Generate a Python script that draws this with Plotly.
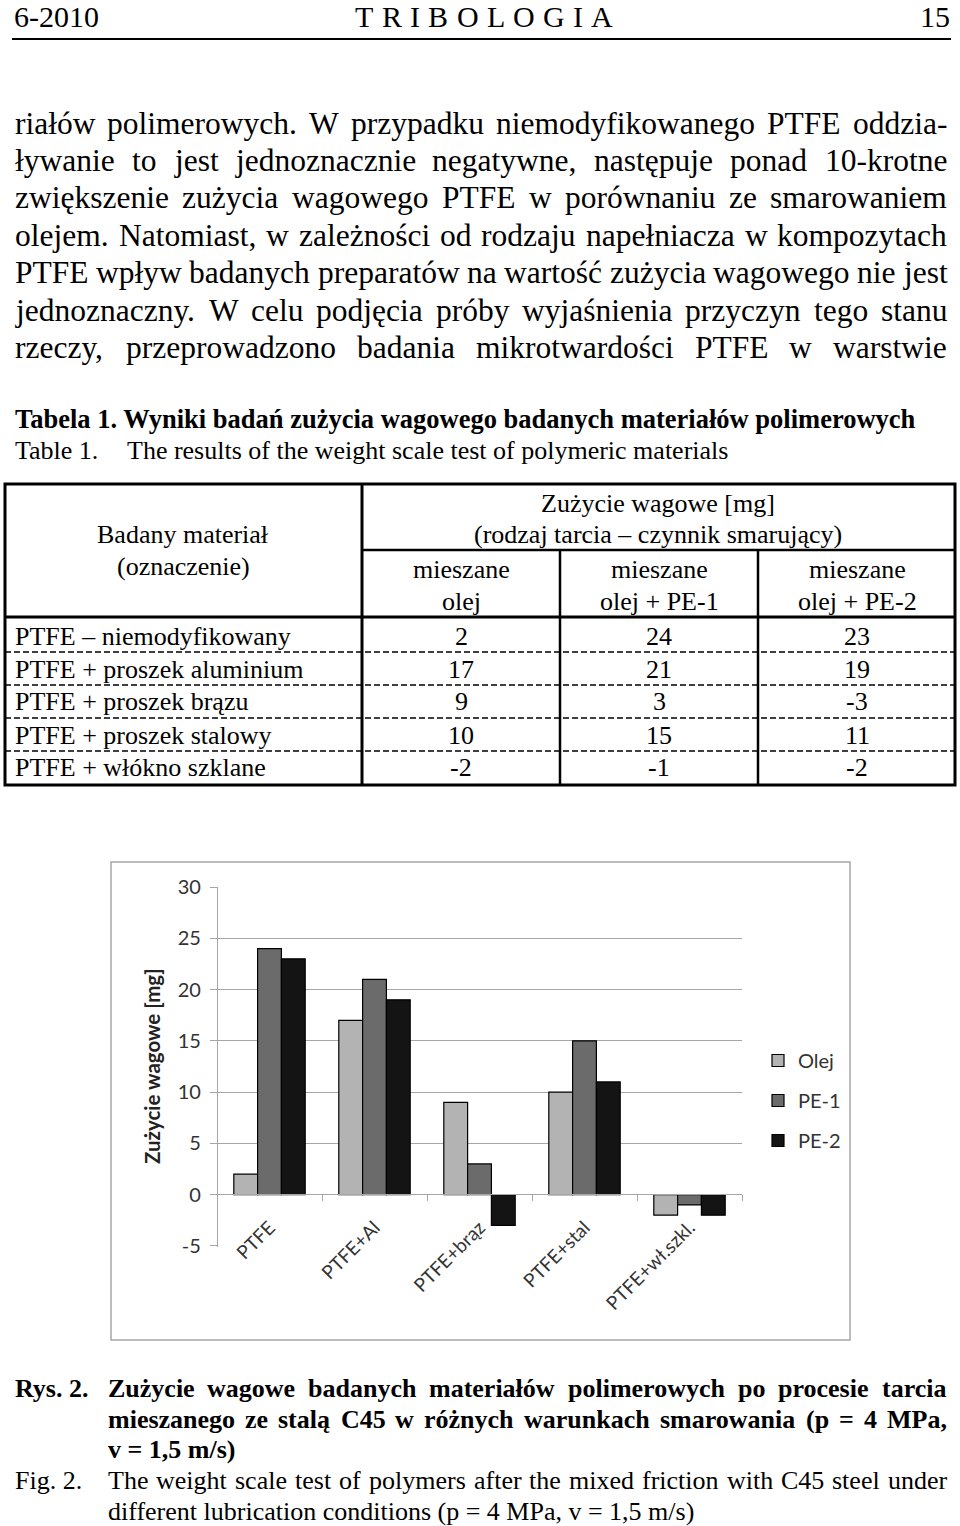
import plotly.graph_objects as go

# ---------------- data ----------------
categories = ["PTFE", "PTFE+Al", "PTFE+brąz", "PTFE+stal", "PTFE+wł.szkl."]
series_names = ["Olej", "PE-1", "PE-2"]
olej = [2, 17, 9, 10, -2]
pe1 = [24, 21, 3, 15, -1]
pe2 = [23, 19, -3, 11, -2]
ytick_vals = [-5, 0, 5, 10, 15, 20, 25, 30]
ytick_labels = ["-5", "0", "5", "10", "15", "20", "25", "30"]

table_rows = ["PTFE – niemodyfikowany", "PTFE + proszek aluminium", "PTFE + proszek brązu",
              "PTFE + proszek stalowy", "PTFE + włókno szklane"]
table_col_top = ["mieszane", "mieszane", "mieszane"]
table_col_bottom = ["olej", "olej + PE-1", "olej + PE-2"]

body_lines = [
    "riałów polimerowych. W przypadku niemodyfikowanego PTFE oddzia-",
    "ływanie to jest jednoznacznie negatywne, następuje ponad 10-krotne",
    "zwiększenie zużycia wagowego PTFE w porównaniu ze smarowaniem",
    "olejem. Natomiast, w zależności od rodzaju napełniacza w kompozytach",
    "PTFE wpływ badanych preparatów na wartość zużycia wagowego nie jest",
    "jednoznaczny. W celu podjęcia próby wyjaśnienia przyczyn tego stanu",
    "rzeczy, przeprowadzono badania mikrotwardości PTFE w warstwie",
]
caption_pl = [
    "Zużycie wagowe badanych materiałów polimerowych po procesie tarcia",
    "mieszanego ze stalą C45 w różnych warunkach smarowania (p = 4 MPa,",
    "v = 1,5 m/s)",
]
caption_en = [
    "The weight scale test of polymers after the mixed friction with C45 steel under",
    "different lubrication conditions (p = 4 MPa, v = 1,5 m/s)",
]

# ---------------- page helpers ----------------
FW, FH = 960, 1526
SERIF = "Liberation Serif"
SANS = "Lato"


def px(x):
    return x / FW


def py(y):
    return 1 - y / FH


REG = dict(zip("abcdefghijklmnopqrstuvwxyz",
               [444, 500, 444, 500, 444, 333, 500, 500, 278, 278, 500, 278, 778, 500, 500, 500, 500, 333, 389, 278, 500, 500, 722, 500, 500, 444]))
REG.update(zip("ABCDEFGHIJKLMNOPQRSTUVWXYZ",
               [722, 667, 667, 722, 611, 556, 722, 722, 333, 389, 722, 611, 889, 722, 722, 556, 722, 667, 556, 611, 722, 722, 944, 722, 722, 611]))
REG.update({c: 500 for c in "0123456789"})
REG.update({" ": 250, ".": 250, ",": 250, "-": 333, "(": 333, ")": 333, "+": 564, "=": 564,
            "[": 333, "]": 333, "/": 278, ":": 278, "–": 500,
            "ą": 444, "ć": 444, "ę": 444, "ł": 278, "ń": 500, "ó": 500, "ś": 389, "ź": 444, "ż": 444, "Ż": 611})
BOLD = dict(zip("abcdefghijklmnopqrstuvwxyz",
                [500, 556, 444, 556, 444, 333, 500, 556, 278, 333, 556, 278, 833, 556, 500, 556, 556, 444, 389, 333, 556, 500, 722, 500, 500, 444]))
BOLD.update(zip("ABCDEFGHIJKLMNOPQRSTUVWXYZ",
                [722, 667, 722, 722, 667, 611, 778, 778, 389, 500, 778, 667, 944, 722, 778, 611, 778, 722, 556, 667, 722, 722, 1000, 722, 722, 667]))
BOLD.update({c: 500 for c in "0123456789"})
BOLD.update({" ": 250, ".": 250, ",": 250, "-": 333, "(": 333, ")": 333, "=": 570, "/": 278,
             "ą": 500, "ę": 444, "ł": 278, "ń": 556, "ó": 500, "ś": 389, "ż": 444, "Ż": 667})


def tw(s, size, bold=False):
    t = BOLD if bold else REG
    return sum(t.get(c, 500) for c in s) / 1000.0 * size


annotations = []
shapes = []


def ann(text, x, y, size=26, bold=False, xanchor="left", family=SERIF, color="black", angle=0):
    if bold:
        text = "<b>" + text + "</b>"
    annotations.append(dict(text=text, x=px(x), y=py(y), xref="paper", yref="paper",
                            xanchor=xanchor, yanchor="middle", showarrow=False, borderpad=0,
                            font=dict(family=family, size=size, color=color), textangle=angle))


def justify(words, x0, x1, y, size=26, bold=False):
    wids = [tw(w, size, bold) for w in words]
    gap = (x1 - x0 - sum(wids)) / max(len(words) - 1, 1)
    x = x0
    for w, wd in zip(words, wids):
        ann(w, x, y, size=size, bold=bold)
        x += wd + gap


def line(x0, y0, x1, y1, width=2, color="black", dash="solid", layer="above"):
    shapes.append(dict(type="line", xref="paper", yref="paper", x0=px(x0), x1=px(x1),
                       y0=py(y0), y1=py(y1), layer=layer,
                       line=dict(color=color, width=width, dash=dash)))


# ---------------- header ----------------
ann("6-2010", 13, 17, size=30)
ann("15", 951, 17, size=30, xanchor="right")
justify(list("TRIBOLOGIA"), 354, 612, 17, size=30)
line(12, 39, 951, 39, width=2)

# ---------------- body text ----------------
for i, l in enumerate(body_lines):
    justify(l.split(" "), 14, 946, 123 + 37.4 * i, size=31.5)

# ---------------- table title ----------------
ann("Tabela 1. Wyniki badań zużycia wagowego badanych materiałów polimerowych", 14, 419, size=26.5, bold=True)
ann("Table 1.", 14, 450)
ann("The results of the weight scale test of polymeric materials", 126, 450)

# ---------------- table ----------------
shapes.append(dict(type="rect", xref="paper", yref="paper", x0=px(5), x1=px(955),
                   y0=py(484), y1=py(785), line=dict(color="black", width=3)))
line(362, 484, 362, 785, width=3)
line(362, 550, 955, 550, width=2.5)
line(560, 550, 560, 785, width=2.5)
line(758, 550, 758, 785, width=2.5)
line(5, 617, 955, 617, width=3)
for yy in [652, 685, 718, 751]:
    line(5, yy, 955, yy, width=1.5, dash="6px,3px")

ann("Badany materiał", 183, 535, xanchor="center")
ann("(oznaczenie)", 183, 566, xanchor="center")
ann("Zużycie wagowe [mg]", 658, 503, xanchor="center")
ann("(rodzaj tarcia – czynnik smarujący)", 658, 535, xanchor="center")
col_cx = [461, 659, 857]
for cx, t, b in zip(col_cx, table_col_top, table_col_bottom):
    ann(t, cx, 570, xanchor="center")
    ann(b, cx, 601, xanchor="center")
series_vals = [olej, pe1, pe2]
for r, label in enumerate(table_rows):
    yy = 636 + 33 * r
    ann(label, 14, yy)
    for c, cx in enumerate(col_cx):
        ann(str(series_vals[c][r]), cx, yy, xanchor="center")

# ---------------- chart frame ----------------
shapes.append(dict(type="rect", xref="paper", yref="paper", x0=px(111), x1=px(850),
                   y0=py(862), y1=py(1340), layer="below",
                   line=dict(color="#a6a6a6", width=1.5)))

# ---------------- chart ----------------
colors = ["#b3b3b3", "#6b6b6b", "#141414"]
fig = go.Figure()
for name, vals, col in zip(series_names, series_vals, colors):
    fig.add_trace(go.Bar(x=categories, y=vals, name=name, legendgroup=name,
                         marker=dict(color=col, line=dict(color="black", width=1.2))))

GRID = "#a6a6a6"
TXT = "#333333"
ann("Zużycie wagowe [mg]", 152, 1066, size=20.5, bold=True, xanchor="center", family=SANS, color="#222222", angle=-90)

# ---------------- captions ----------------
ann("Rys. 2.", 14, 1388, bold=True)
justify(caption_pl[0].split(" "), 107, 946, 1388, bold=True)
justify(caption_pl[1].split(" "), 107, 946, 1419, bold=True)
ann(caption_pl[2], 107, 1449, bold=True)
ann("Fig. 2.", 14, 1480)
justify(caption_en[0].split(" "), 107, 946, 1480)
ann(caption_en[1], 107, 1511)

fig.update_layout(
    width=FW, height=FH, autosize=False,
    margin=dict(l=0, r=0, t=0, b=0, pad=0, autoexpand=False),
    paper_bgcolor="white", plot_bgcolor="rgba(0,0,0,0)",
    barmode="group", bargap=0.32, bargroupgap=0,
    xaxis=dict(domain=[px(217), px(742)], anchor="free", position=py(1194), automargin=False,
               showline=True, linecolor=GRID, linewidth=1.2, ticks="outside", tickson="boundaries",
               ticklen=6, tickcolor=GRID, tickangle=-45, showgrid=False, zeroline=False,
               ticklabelstandoff=14,
               tickfont=dict(family=SANS, size=19, color=TXT)),
    yaxis=dict(domain=[py(1246.5), py(886.5)], anchor="free", position=px(217), automargin=False,
               range=[-5.05, 30.05], tickvals=ytick_vals, ticktext=ytick_labels,
               showgrid=True, gridcolor=GRID, gridwidth=1.2,
               zeroline=True, zerolinecolor=GRID, zerolinewidth=1.2,
               showline=True, linecolor=GRID, linewidth=1.2,
               ticks="outside", ticklen=7, tickcolor=GRID, ticklabelstandoff=5,
               tickfont=dict(family=SANS, size=20, color=TXT)),
    legend=dict(x=px(758), y=py(1041), xanchor="left", yanchor="top",
                font=dict(family=SANS, size=20, color=TXT), bgcolor="rgba(0,0,0,0)",
                tracegroupgap=11, traceorder="grouped"),
    annotations=annotations,
    shapes=shapes,
)

# remove the default 8px page margin so the figure fills the window exactly
fig.write_html("out.html", config={"displayModeBar": False},
               post_script="document.body.style.margin='0px';")
